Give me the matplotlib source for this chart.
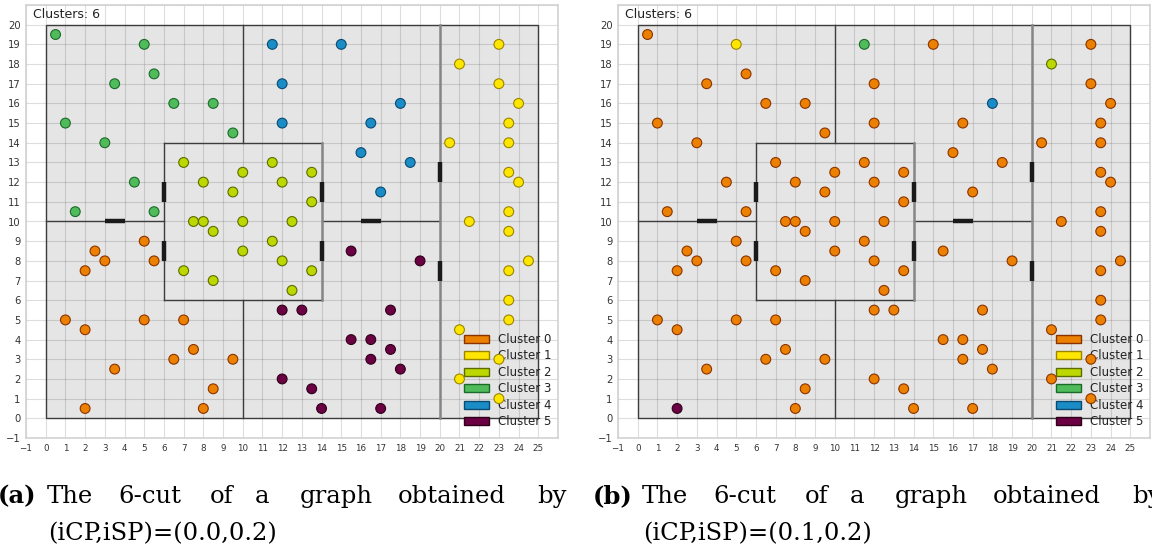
import matplotlib
matplotlib.use("Agg")
import matplotlib.pyplot as plt
from matplotlib.patches import Rectangle, Patch

# point coordinates (shared by both panels)
px = [5, 2.5, 3, 5.5, 2, 1, 5, 7, 2, 7.5, 6.5, 9.5, 3.5, 8.5, 2, 8,
      23, 21, 23, 24, 23.5, 23.5, 20.5, 23.5, 24, 23.5, 21.5, 23.5, 24.5, 23.5, 23.5, 23.5, 21, 23, 21, 23,
      7, 11.5, 10, 13.5, 8, 12, 9.5, 13.5, 7.5, 8, 10, 12.5, 8.5, 11.5, 10, 12, 7, 13.5, 8.5, 12.5,
      0.5, 5, 5.5, 3.5, 6.5, 8.5, 1, 9.5, 3, 4.5, 1.5, 5.5,
      11.5, 15, 12, 18, 12, 16.5, 16, 18.5, 17,
      12, 13, 17.5, 15.5, 19, 15.5, 16.5, 17.5, 16.5, 18, 12, 13.5, 14, 17]
py = [9, 8.5, 8, 8, 7.5, 5, 5, 5, 4.5, 3.5, 3, 3, 2.5, 1.5, 0.5, 0.5,
      19, 18, 17, 16, 15, 14, 14, 12.5, 12, 10.5, 10, 9.5, 8, 7.5, 6, 5, 4.5, 3, 2, 1,
      13, 13, 12.5, 12.5, 12, 12, 11.5, 11, 10, 10, 10, 10, 9.5, 9, 8.5, 8, 7.5, 7.5, 7, 6.5,
      19.5, 19, 17.5, 17, 16, 16, 15, 14.5, 14, 12, 10.5, 10.5,
      19, 19, 17, 16, 15, 15, 13.5, 13, 11.5,
      5.5, 5.5, 5.5, 8.5, 8, 4, 4, 3.5, 3, 2.5, 2, 1.5, 0.5, 0.5]
lab_a = [0] * 16 + [1] * 20 + [2] * 20 + [3] * 12 + [4] * 9 + [5] * 14
# panel (b): almost everything in cluster 0
lab_b = [0] * len(px)
for (bx, by), c in {(5, 19): 1, (21, 18): 2, (11.5, 19): 3, (18, 16): 4, (2, 0.5): 5}.items():
    for i in range(len(px)):
        if px[i] == bx and py[i] == by:
            lab_b[i] = c

cluster_names = ["Cluster 0", "Cluster 1", "Cluster 2", "Cluster 3", "Cluster 4", "Cluster 5"]
FACE = ["#ec8000", "#ffe600", "#bcd800", "#4fbb5a", "#1a8cc6", "#6b0043"]
EDGE = ["#8a3300", "#9a8400", "#5d6c00", "#1b6a2a", "#0b4a72", "#2c0018"]

# room layout
walls_thin = [((10, 10), (14, 20)), ((10, 10), (0, 6)), ((0, 6), (10, 10)), ((14, 20), (10, 10)),
              ((6, 14), (14, 14)), ((6, 14), (6, 6)), ((6, 6), (6, 14))]
walls_gray = [((14, 14), (6, 14)), ((20, 20), (0, 20))]
doors = [((3, 4), (10, 10)), ((16, 17), (10, 10)), ((6, 6), (11, 12)), ((6, 6), (8, 9)),
         ((14, 14), (11, 12)), ((14, 14), (8, 9)), ((20, 20), (12, 13)), ((20, 20), (7, 8))]

cap_words = [("(a)", -2, True), ("The", 47, False), ("6-cut", 118, False), ("of", 210, False),
             ("a", 255, False), ("graph", 300, False), ("obtained", 398, False), ("by", 537, False)]
cap_line2 = ["(iCP,iSP)=(0.0,0.2)", "(iCP,iSP)=(0.1,0.2)"]

W, H = 1152, 552
fig = plt.figure(figsize=(W / 100, H / 100), dpi=100)


def draw(left, labels):
    ax = fig.add_axes([left / W, 114 / H, 532 / W, 433 / H])
    ax.set_xlim(-1, 26); ax.set_ylim(-1, 21)
    ax.set_xticks(range(-1, 27))
    ax.set_xticklabels([str(v).replace("-", "\u2212") for v in range(-1, 26)] + [""])
    ax.set_yticks(range(-1, 22))
    ax.set_yticklabels([str(v).replace("-", "\u2212") for v in range(-1, 21)] + [""])
    ax.tick_params(length=0, pad=4, colors="#333333")
    ax.tick_params(axis="x", labelsize=6.3)
    ax.tick_params(axis="y", labelsize=7.2)
    ax.grid(True, color="black", alpha=0.13, lw=0.8)
    ax.set_axisbelow(True)
    for s in ax.spines.values():
        s.set_color("#d2d2d2"); s.set_linewidth(1.2)
    ax.add_patch(Rectangle((0, 0), 25, 20, facecolor="#e5e5e5", edgecolor="none", zorder=0.2))
    ax.add_patch(Rectangle((0, 0), 25, 20, facecolor="none", edgecolor="#3c3c3c",
                           lw=1.0, zorder=2))
    for xs, ys in walls_thin:
        ax.plot(xs, ys, color="#3c3c3c", lw=1.0, zorder=2)
    for xs, ys in walls_gray:
        ax.plot(xs, ys, color="#858585", lw=1.8, zorder=2)
    for xs, ys in doors:
        ax.plot(xs, ys, color="#1a1a1a", lw=3.2, zorder=3, solid_capstyle="butt")
    ax.scatter(px, py, s=50, c=[FACE[c] for c in labels], edgecolors=[EDGE[c] for c in labels],
               linewidths=0.8, zorder=6)
    ax.text(-0.65, 20.5, "Clusters: 6", fontsize=9, va="center", ha="left", color="#222222")
    handles = [Patch(facecolor=FACE[i], edgecolor=EDGE[i], lw=1.0, label=cluster_names[i])
               for i in range(6)]
    leg = ax.legend(handles=handles, loc="lower left", bbox_to_anchor=(0.823, 0.022),
                    frameon=False, fontsize=8.5, borderpad=0, borderaxespad=0,
                    handlelength=2.1, handleheight=0.7, handletextpad=0.8, labelspacing=0.3)
    leg.set_zorder(5)
    for t in leg.get_texts():
        t.set_color("#222222")
    return ax


for k, (left, labels) in enumerate([(26, lab_a), (618, lab_b)]):
    draw(left, labels)
    off = 595 * k
    for word, x0, bold in cap_words:
        if word == "(a)" and k == 1:
            word = "(b)"
        fig.text((x0 + off) / W, 1 - 503 / H, word, fontsize=17.5, family="DejaVu Serif",
                 fontweight="bold" if bold else "normal", va="baseline", ha="left")
    fig.text((48 + off) / W, 1 - 540 / H, cap_line2[k], fontsize=17.5, family="DejaVu Serif",
             va="baseline", ha="left")

fig.savefig("out.png", dpi=100)
